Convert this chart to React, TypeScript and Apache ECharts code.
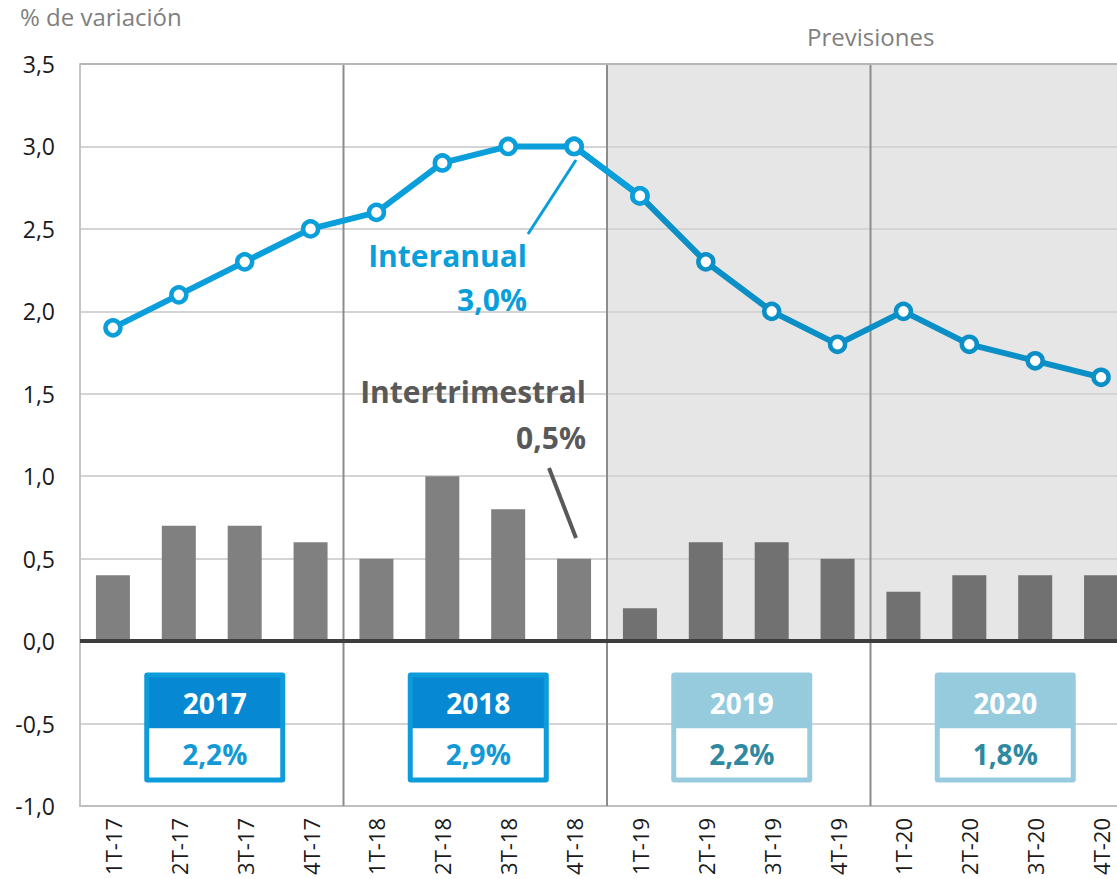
import React, { useEffect, useRef } from "react";
import * as echarts from "echarts";

const categories = [
  "1T-17", "2T-17", "3T-17", "4T-17",
  "1T-18", "2T-18", "3T-18", "4T-18",
  "1T-19", "2T-19", "3T-19", "4T-19",
  "1T-20", "2T-20", "3T-20", "4T-20",
];
const interanual = [1.9, 2.1, 2.3, 2.5, 2.6, 2.9, 3.0, 3.0, 2.7, 2.3, 2.0, 1.8, 2.0, 1.8, 1.7, 1.6];
const intertrimestral = [0.4, 0.7, 0.7, 0.6, 0.5, 1.0, 0.8, 0.5, 0.2, 0.6, 0.6, 0.5, 0.3, 0.4, 0.4, 0.4];
const years = ["2017", "2018", "2019", "2020"];
const annual = ["2,2%", "2,9%", "2,2%", "1,8%"];
const yearBoundaries = [4, 8, 12];
const forecastStartIndex = 8;

const FONT = "'Open Sans', 'Noto Sans', sans-serif";

export default function App() {
  const ref = useRef<HTMLDivElement>(null);

  useEffect(() => {
    if (!ref.current) return;
    const chart = echarts.init(ref.current, null, { renderer: "svg" });

    const n = categories.length;
    const barData = intertrimestral.map((v, i) => ({
      value: v,
      itemStyle: { color: i >= forecastStartIndex ? "#717171" : "#808080" },
    }));

    const boxData = years.map((y, i) => [i * 4 + 2, i]);

    const histColor = "#0a9fdb";
    const foreColor = "#0a8fc6";

    const option: any = {
      animation: false,
      textStyle: { fontFamily: FONT },
      grid: {
        left: 80,
        top: 64,
        width: 1054,
        height: 742,
        containLabel: false,
        outerBoundsMode: "none",
      },
      xAxis: [
        {
          type: "category",
          data: categories,
          boundaryGap: true,
          position: "bottom",
          axisLine: { onZero: false, lineStyle: { color: "#bfbfbf", width: 2 } },
          axisTick: { show: false },
          axisLabel: { rotate: 90, fontSize: 22, color: "#1a1a1a", margin: 12, fontFamily: FONT },
          splitLine: { show: false },
          z: 2,
        },
        {
          type: "value",
          min: 0,
          max: n,
          show: false,
        },
      ],
      yAxis: {
        type: "value",
        min: -1,
        max: 3.5,
        interval: 0.5,
        axisLine: { show: true, lineStyle: { color: "#c4c4c4", width: 2 } },
        axisTick: { show: false },
        axisLabel: {
          fontSize: 23,
          color: "#1a1a1a",
          margin: 25,
          fontFamily: FONT,
          formatter: (v: number) => v.toFixed(1).replace(".", ","),
        },
        splitLine: { lineStyle: { color: "#d4d4d4", width: 2 } },
        z: 2,
      },
      series: [
        {
          // forecast background
          type: "custom",
          xAxisIndex: 1,
          yAxisIndex: 0,
          data: [[forecastStartIndex, n]],
          z: 1,
          silent: true,
          renderItem: (params: any, api: any) => {
            const a = api.coord([api.value(0), 3.5]);
            const b = api.coord([api.value(1), 0]);
            return {
              type: "rect",
              shape: { x: a[0], y: a[1], width: b[0] - a[0], height: b[1] - a[1] },
              style: { fill: "#e6e6e6" },
            };
          },
        },
        {
          type: "bar",
          data: barData,
          barWidth: 34,
          z: 3,
          markLine: {
            silent: true,
            symbol: "none",
            label: { show: false },
            data: [
              { yAxis: 0, lineStyle: { color: "#3d3d3d", width: 4, type: "solid" } },
              { yAxis: 3.5, lineStyle: { color: "#b5b5b5", width: 2, type: "solid" } },
            ],
          },
        },
        {
          // year dividers
          type: "custom",
          xAxisIndex: 1,
          yAxisIndex: 0,
          data: yearBoundaries.map((x) => [x]),
          z: 4,
          silent: true,
          renderItem: (params: any, api: any) => {
            const a = api.coord([api.value(0), 3.5]);
            const b = api.coord([api.value(0), -1]);
            return {
              type: "line",
              shape: { x1: a[0], y1: a[1], x2: b[0], y2: b[1] },
              style: { stroke: "#8c8c8c", lineWidth: 2 },
            };
          },
        },
        {
          type: "line",
          data: interanual.map((v, i) => (i <= forecastStartIndex ? v : null)),
          z: 6,
          symbol: "circle",
          symbolSize: 15,
          showAllSymbol: true,
          color: histColor,
          lineStyle: { width: 6, color: histColor },
          itemStyle: { color: "#ffffff", borderColor: histColor, borderWidth: 4.5 },
        },
        {
          type: "line",
          data: interanual.map((v, i) => (i >= forecastStartIndex - 1 ? v : null)),
          z: 5,
          symbol: "circle",
          symbolSize: 15,
          showAllSymbol: true,
          color: foreColor,
          lineStyle: { width: 6, color: foreColor },
          itemStyle: { color: "#ffffff", borderColor: foreColor, borderWidth: 4.5 },
        },
        {
          type: "custom",
          xAxisIndex: 1,
          yAxisIndex: 0,
          data: boxData,
          z: 7,
          silent: true,
          renderItem: (params: any, api: any) => {
            const i = api.value(1);
            const top = api.coord([api.value(0), -0.19]);
            const hb = api.coord([api.value(0), -0.528]);
            const bot = api.coord([api.value(0), -0.857]);
            const w = 141;
            const cx = top[0] + 3;
            const x0 = cx - w / 2;
            const fc = i < 2;
            const border = fc ? "#0d9bd9" : "#98cbdd";
            const header = fc ? "#0788d2" : "#96cadd";
            const valColor = fc ? "#139ad6" : "#2e89a1";
            const b = 5;
            return {
              type: "group",
              children: [
                {
                  type: "rect",
                  shape: { x: x0, y: top[1], width: w, height: bot[1] - top[1], r: 3 },
                  style: { fill: border },
                },
                {
                  type: "rect",
                  shape: { x: x0 + b, y: top[1] + b, width: w - 2 * b, height: hb[1] - top[1] - b },
                  style: { fill: header },
                },
                {
                  type: "rect",
                  shape: { x: x0 + b, y: hb[1], width: w - 2 * b, height: bot[1] - hb[1] - b },
                  style: { fill: "#ffffff" },
                },
                {
                  type: "text",
                  style: {
                    text: years[i],
                    x: cx,
                    y: (top[1] + hb[1]) / 2 + 3,
                    align: "center",
                    verticalAlign: "middle",
                    fill: "#ffffff",
                    font: `bold 28px ${FONT}`,
                  },
                },
                {
                  type: "text",
                  style: {
                    text: annual[i],
                    x: cx,
                    y: (hb[1] + bot[1]) / 2 - 1,
                    align: "center",
                    verticalAlign: "middle",
                    fill: valColor,
                    font: `bold 28px ${FONT}`,
                  },
                },
              ],
            };
          },
        },
      ],
      graphic: [
        {
          type: "text",
          left: 20,
          top: 4,
          style: { text: "% de variación", fill: "#7f7f7f", font: `24px ${FONT}` },
        },
        {
          type: "text",
          left: 807,
          top: 24,
          style: { text: "Previsiones", fill: "#7f7f7f", font: `24px ${FONT}` },
        },
        {
          type: "text",
          x: 527,
          y: 255,
          style: {
            text: "Interanual",
            align: "right",
            verticalAlign: "middle",
            fill: histColor,
            font: `bold 30px ${FONT}`,
          },
          z: 10,
        },
        {
          type: "text",
          x: 527,
          y: 299,
          style: {
            text: "3,0%",
            align: "right",
            verticalAlign: "middle",
            fill: histColor,
            font: `bold 30px ${FONT}`,
          },
          z: 10,
        },
        {
          type: "line",
          shape: { x1: 528, y1: 234, x2: 576, y2: 160 },
          style: { stroke: histColor, lineWidth: 3 },
          z: 10,
        },
        {
          type: "text",
          x: 586,
          y: 391,
          style: {
            text: "Intertrimestral",
            align: "right",
            verticalAlign: "middle",
            fill: "#595959",
            font: `bold 30px ${FONT}`,
          },
          z: 10,
        },
        {
          type: "text",
          x: 586,
          y: 437,
          style: {
            text: "0,5%",
            align: "right",
            verticalAlign: "middle",
            fill: "#595959",
            font: `bold 30px ${FONT}`,
          },
          z: 10,
        },
        {
          type: "line",
          shape: { x1: 549, y1: 468, x2: 576, y2: 538 },
          style: { stroke: "#595959", lineWidth: 4 },
          z: 10,
        },
      ],
    };

    chart.setOption(option);
    return () => chart.dispose();
  }, []);

  return (
    <div
      ref={ref}
      style={{ position: "absolute", left: 0, top: 0, width: 1117, height: 879, background: "#ffffff" }}
    />
  );
}
